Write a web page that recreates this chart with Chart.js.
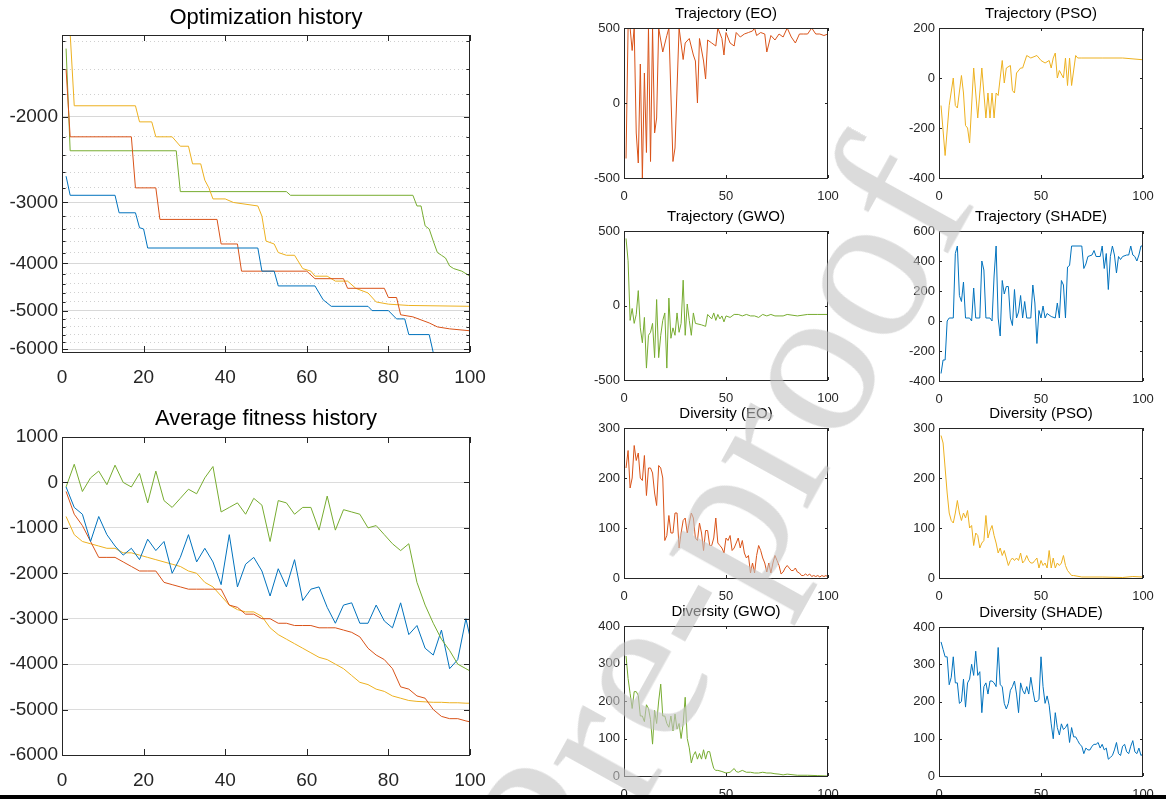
<!DOCTYPE html>
<html><head><meta charset="utf-8">
<script src="https://cdn.jsdelivr.net/npm/chart.js@4"></script>
<style>
body{margin:0;background:#fff;width:1166px;height:799px;position:relative;overflow:hidden;font-family:"Liberation Sans",Arial,sans-serif}
.box{position:absolute}
#wm{position:absolute;right:250px;top:40px;white-space:nowrap;font-family:"Liberation Serif","DejaVu Serif",serif;font-size:215px;color:rgba(195,195,195,0.6);transform-origin:right center;transform:rotate(-61deg);pointer-events:none}
#bar{position:absolute;left:0;top:795px;width:1166px;height:4px;background:#000}
</style></head><body>
<div id="wm">Journal Pre-proof</div>
<div id="bar"></div>
<script>
var BLUE="#0072BD",ORANGE="#D95319",YELLOW="#EDB120",GREEN="#77AC30";

// Optimization history (step breakpoints)
var optBlueX=[1,2,13,14,18,19,20,21,48,49,52,53,62,64,66,75,76,80,82,84,85,90,91,100];
var optBlueY=[-2650,-2900,-2900,-3150,-3150,-3380,-3400,-3720,-3720,-4150,-4150,-4450,-4450,-4750,-4900,-4900,-5000,-5000,-5200,-5200,-5600,-5600,-6100,-6100];
var optOrangeX=[1,2,17,18,23,24,38,39,43,44,60,62,69,70,79,80,82,83,86,90,92,95,100];
var optOrangeY=[-1600,-2200,-2200,-2800,-2800,-3250,-3250,-3650,-3650,-4150,-4150,-4300,-4300,-4500,-4500,-4700,-4700,-5100,-5150,-5300,-5400,-5450,-5500];
var optYellowX=[1,2,3,18,19,22,23,27,29,31,32,34,35,36,37,40,42,48,49,50,52,53,55,57,59,61,62,65,67,70,72,75,77,80,85,100];
var optYellowY=[-1300,-1350,-1900,-1900,-2050,-2050,-2200,-2200,-2300,-2300,-2500,-2500,-2700,-2800,-2950,-2950,-3000,-3050,-3200,-3600,-3650,-3800,-3850,-3850,-4100,-4150,-4250,-4250,-4350,-4350,-4500,-4600,-4800,-4850,-4880,-4900];
var optGreenX=[1,2,28,29,55,56,86,87,88,89,90,91,92,93,94,95,96,98,100];
var optGreenY=[-1450,-2350,-2350,-2850,-2850,-2900,-2900,-3050,-3050,-3350,-3400,-3600,-3800,-3850,-3900,-4050,-4100,-4150,-4250];

// Average fitness history
var avgX=[1,3,5,7,9,11,13,15,17,19,21,23,25,27,29,31,33,35,37,39,41,43,45,47,49,51,53,55,57,59,61,63,65,67,69,71,73,75,77,79,81,83,85,87,89,91,93,95,97,99,100];
var avgGreen=[-100,400,-200,100,250,-50,380,0,-100,200,-450,250,-400,-550,-350,-150,-250,100,350,-650,-550,-450,-700,-350,-500,-1300,-400,-450,-700,-550,-550,-1050,-300,-1050,-600,-650,-700,-1000,-950,-1150,-1350,-1500,-1350,-2200,-2700,-3100,-3450,-3700,-4000,-4100,-4150];
var avgBlue=[-100,-550,-700,-1300,-750,-1150,-1400,-1600,-1450,-1700,-1250,-1500,-1300,-2000,-1650,-1150,-1750,-1450,-1750,-2250,-1150,-2300,-1800,-1650,-1950,-2500,-1900,-2300,-1700,-2600,-2350,-2300,-2750,-3100,-2700,-2650,-3100,-3100,-2700,-3050,-3200,-2650,-3350,-3150,-3650,-3800,-3250,-4100,-3900,-3000,-3400];
var avgOrange=[-200,-700,-950,-1300,-1650,-1650,-1650,-1750,-1850,-1950,-1950,-1950,-2200,-2250,-2300,-2350,-2350,-2350,-2350,-2350,-2700,-2750,-2900,-2900,-3000,-3000,-3100,-3100,-3150,-3150,-3150,-3200,-3200,-3200,-3250,-3300,-3400,-3650,-3800,-3900,-4100,-4500,-4550,-4700,-4750,-5000,-5150,-5200,-5200,-5250,-5270];
var avgYellow=[-750,-1150,-1300,-1350,-1400,-1450,-1450,-1550,-1550,-1600,-1650,-1700,-1750,-1800,-1850,-1950,-2000,-2200,-2300,-2500,-2700,-2800,-2850,-2850,-2950,-3200,-3350,-3450,-3550,-3650,-3750,-3850,-3900,-4000,-4100,-4250,-4400,-4450,-4550,-4600,-4700,-4750,-4800,-4820,-4830,-4840,-4840,-4850,-4850,-4860,-4860];

// Trajectories
var trajEOX=[1,2,3,4,5,6,7,8,9,10,11,12,13,14,15,16,17,19,21,22,24,25,27,29,30,32,34,35,36,37,39,40,41,43,45,46,48,49,50,52,54,55,57,59,61,63,64,65,67,69,70,72,74,76,78,80,82,84,86,88,90,92,94,96,98,100];
var trajEOY=[-370,500,500,350,500,-200,-400,260,-500,200,-330,500,-390,500,-200,-100,500,340,450,500,-390,-300,500,290,400,430,320,280,0,430,280,160,420,400,380,500,430,320,470,400,380,470,440,460,470,480,500,450,470,460,340,450,420,460,440,500,440,400,460,460,460,500,460,460,450,460];
var trajPSOX=[1,3,5,7,8,9,11,12,13,14,15,17,19,21,23,24,25,26,27,28,29,31,32,33,35,36,37,38,40,41,43,45,48,50,52,54,55,56,57,58,59,61,62,63,64,65,67,68,70,75,80,90,100];
var trajPSOY=[-110,-310,-110,0,-110,-120,10,-60,-190,-200,-260,40,-160,40,-160,-60,-160,-60,-160,-60,-70,70,-20,40,50,-50,-60,20,40,40,90,80,90,70,60,70,40,80,100,0,30,0,80,-30,80,-30,90,80,80,80,80,80,73];
var trajGWOX=[1,2,3,4,5,6,7,8,9,10,11,12,13,14,15,16,17,18,19,20,21,22,23,24,25,26,27,28,29,30,31,32,33,34,35,38,40,41,43,44,45,46,47,48,49,50,52,54,56,58,60,62,64,66,68,70,72,74,76,78,80,85,90,95,100];
var trajGWOY=[450,300,-100,-20,-120,-60,100,-150,-250,-80,-420,-200,-180,-120,-350,40,-350,-200,-100,-50,-420,50,-220,-150,-200,-50,-180,-120,170,-200,10,-100,-200,-50,-120,-130,-140,-60,-90,-50,-100,-60,-90,-70,-110,-70,-80,-60,-60,-70,-60,-70,-70,-80,-60,-70,-60,-70,-70,-70,-60,-70,-60,-60,-60];
var trajSHX=[1,2,3,4,5,7,8,9,10,11,12,13,15,16,17,18,20,21,22,23,25,26,27,28,29,30,31,32,33,34,35,36,37,38,39,40,41,42,43,45,46,47,48,49,50,51,52,53,55,57,58,59,60,61,62,63,64,65,70,71,72,73,75,76,77,79,80,81,82,83,84,85,86,87,88,89,90,92,93,94,95,96,97,98,99,100];
var trajSHY=[-350,-260,-260,0,20,20,450,500,170,130,260,20,20,0,220,20,20,400,340,20,20,0,300,500,20,-100,270,180,230,230,20,-30,210,20,60,170,20,130,20,20,240,120,-150,70,20,100,20,50,30,20,120,20,270,240,20,360,370,500,500,350,380,430,440,470,430,430,500,350,450,210,430,500,440,320,430,410,430,440,440,500,440,430,400,440,500,500];

// Diversity (x = 1..100 unless given)
var divEO=[220,255,180,200,265,235,250,200,195,245,165,220,220,210,170,145,225,220,200,75,85,125,90,90,130,130,60,90,115,120,90,110,130,120,80,75,110,90,55,95,95,65,65,80,120,70,65,60,50,80,75,85,55,60,70,80,60,75,50,40,45,10,30,10,45,65,55,40,30,12,30,10,30,45,35,25,8,12,20,25,20,15,15,20,12,10,5,5,8,5,8,3,5,3,5,2,5,3,5,2];
var divPSOX=[1,2,3,4,5,6,7,8,9,10,11,12,13,14,15,16,17,18,19,20,21,22,23,24,25,26,27,28,29,30,31,32,33,34,35,36,37,38,39,40,41,42,43,44,45,46,47,48,49,50,51,52,53,54,55,56,57,58,59,60,61,62,63,64,65,66,70,80,90,95,100];
var divPSOY=[285,270,220,170,130,115,110,130,155,130,115,130,120,135,100,105,65,90,85,60,70,75,125,80,95,105,85,70,50,60,45,55,40,25,35,40,35,40,35,50,30,35,45,35,30,30,35,40,20,35,25,30,20,55,20,40,20,30,25,30,45,25,15,10,5,5,2,2,1,3,2];
var divGWOX=[1,2,3,4,5,6,7,8,9,10,11,12,13,14,15,16,17,18,19,20,21,22,23,24,25,26,27,28,29,30,31,32,33,34,35,36,37,38,39,40,41,42,43,44,45,46,48,50,52,54,55,56,58,60,62,64,66,68,70,72,74,76,78,80,85,90,95,100];
var divGWOY=[320,260,220,180,225,225,215,160,160,145,190,180,150,85,175,140,200,245,160,160,140,130,160,120,165,125,140,100,140,210,100,75,35,55,65,45,60,45,70,45,65,65,40,20,15,15,12,8,10,20,12,10,15,10,10,8,8,10,8,8,6,5,3,5,2,2,1,0];
var divSHADE=[360,340,320,320,245,265,320,250,250,195,200,260,185,250,260,300,270,335,270,280,170,240,250,220,255,255,250,240,345,245,240,195,180,195,230,240,255,220,170,250,230,220,240,220,265,230,200,200,205,320,240,195,215,190,140,100,170,130,110,140,125,130,140,90,130,105,105,95,85,80,60,75,70,70,80,85,85,90,75,85,70,75,45,50,55,70,90,60,55,80,85,65,60,80,95,65,60,75,55,60];

function pts(xs,ys){
  return ys.map(function(y,i){return {x:xs?xs[i]:i+1,y:y};});
}
function neg(arr){return arr.map(function(v){return -v;});}

// frame + inward ticks + title
var framePlugin={
  id:"frame",
  afterDraw:function(chart){
    var c=chart.ctx,a=chart.chartArea,o=chart.options.plugins.frame;
    c.save();
    c.strokeStyle="#262626";c.lineWidth=1;
    c.strokeRect(a.left+0.5,a.top+0.5,a.right-a.left-1,a.bottom-a.top);
    var tl=o.tick||4;
    chart.scales.x.ticks.forEach(function(t){
      var px=Math.round(chart.scales.x.getPixelForValue(t.value))+0.5;
      c.beginPath();c.moveTo(px,a.bottom);c.lineTo(px,a.bottom-tl);
      c.moveTo(px,a.top);c.lineTo(px,a.top+tl);c.stroke();
    });
    ["y","y2"].forEach(function(k){
      var s=chart.scales[k];if(!s)return;
      var len=k=="y2"?tl*0.6:tl;
      s.ticks.forEach(function(t){
        var py=Math.round(s.getPixelForValue(t.value))+0.5;
        if(py<a.top||py>a.bottom)return;
        c.beginPath();c.moveTo(a.left,py);c.lineTo(a.left+len,py);
        c.moveTo(a.right,py);c.lineTo(a.right-len,py);c.stroke();
      });
    });
    c.fillStyle="#000";c.font=o.titleSize+"px 'Liberation Sans', Arial";
    c.textAlign="center";c.textBaseline="middle";
    c.fillText(o.title,(a.left+a.right)/2,a.top-o.titleOff);
    c.restore();
  }
};

function makeChart(L,T,R,B,yW,xH,padTop,opt){
  var div=document.createElement("div");div.className="box";
  var left=L-yW,top=T-padTop,padR=22;
  div.style.left=left+"px";div.style.top=top+"px";
  div.style.width=(R-left+padR)+"px";div.style.height=(B-top+xH)+"px";
  var cv=document.createElement("canvas");div.appendChild(cv);
  document.body.insertBefore(div,document.getElementById("wm"));
  var fs=opt.fs;
  var scales={
    x:{type:"linear",min:0,max:100,
      afterFit:function(s){s.height=xH;},
      ticks:{stepSize:opt.xStep,color:"#262626",font:{size:fs,family:"Liberation Sans"},maxRotation:0,padding:opt.xPad},
      grid:{display:false},border:{display:false}},
    y:opt.y
  };
  scales.y.afterFit=function(s){s.width=yW;};
  if(opt.y2)scales.y2=opt.y2;
  new Chart(cv,{
    type:"line",
    data:{datasets:opt.sets.map(function(s){return {data:s[0],borderColor:s[1],borderWidth:opt.lw||1,pointRadius:0,fill:false,tension:0};})},
    options:{
      responsive:true,maintainAspectRatio:false,animation:false,
      layout:{padding:{top:padTop,right:padR,left:0,bottom:0}},
      scales:scales,
      plugins:{legend:{display:false},tooltip:{enabled:false},
        frame:{title:opt.title,titleSize:opt.titleSize,titleOff:opt.titleOff,tick:opt.tick}}
    },
    plugins:[framePlugin]
  });
}

function yLin(min,max,step,fs,grid){
  return {type:"linear",min:min,max:max,
    ticks:{stepSize:step,color:"#262626",font:{size:fs,family:"Liberation Sans"},padding:4,callback:function(v){return String(v);}},
    grid:{display:!!grid,color:"#dcdcdc",drawTicks:false},border:{display:false}};
}

// Optimization history (log scale of -fitness, reversed)
var optMajor=[2000,3000,4000,5000,6000];
var optMinor=[1400,1600,1800,2200,2400,2600,2800,3200,3400,3600,3800,4200,4400,4600,4800,5200,5400,5600,5800];
makeChart(62,35,470,352,62,38,35,{
  title:"Optimization history",titleSize:22,titleOff:17,fs:19,xStep:20,xPad:6,tick:6,lw:1,
  y:{type:"logarithmic",reverse:true,min:1360,max:6080,
    afterBuildTicks:function(s){s.ticks=optMajor.map(function(v){return {value:v};});},
    ticks:{color:"#262626",font:{size:19,family:"Liberation Sans"},padding:4,callback:function(v){return "-"+v;}},
    grid:{color:"#d8d8d8",drawTicks:false},border:{display:false}},
  y2:{type:"logarithmic",reverse:true,min:1360,max:6080,position:"left",display:true,
    afterFit:function(s){s.width=0;},
    afterBuildTicks:function(s){s.ticks=optMinor.map(function(v){return {value:v};});},
    ticks:{display:false},
    grid:{color:"#d0d0d0",drawTicks:false},border:{display:false,dash:[1,3]}},
  sets:[[pts(optBlueX,neg(optBlueY)),BLUE],[pts(optOrangeX,neg(optOrangeY)),ORANGE],[pts(optYellowX,neg(optYellowY)),YELLOW],[pts(optGreenX,neg(optGreenY)),GREEN]]
});

makeChart(62,437,470,755,62,38,35,{
  title:"Average fitness history",titleSize:22,titleOff:18,fs:19,xStep:20,xPad:6,tick:6,
  y:yLin(-6000,1000,1000,19,true),
  sets:[[pts(avgX,avgGreen),GREEN],[pts(avgX,avgBlue),BLUE],[pts(avgX,avgOrange),ORANGE],[pts(avgX,avgYellow),YELLOW]]
});

var small=[
  [624,28,828,178,"Trajectory (EO)",yLin(-500,500,500,13),[[pts(trajEOX,trajEOY),ORANGE]]],
  [939,28,1143,178,"Trajectory (PSO)",yLin(-400,200,200,13),[[pts(trajPSOX,trajPSOY),YELLOW]]],
  [624,231,828,380,"Trajectory (GWO)",yLin(-500,500,500,13),[[pts(trajGWOX,trajGWOY),GREEN]]],
  [939,231,1143,381,"Trajectory (SHADE)",yLin(-400,600,200,13),[[pts(trajSHX,trajSHY),BLUE]]],
  [624,428,828,578,"Diversity (EO)",yLin(0,300,100,13),[[pts(null,divEO),ORANGE]]],
  [939,428,1143,578,"Diversity (PSO)",yLin(0,300,100,13),[[pts(divPSOX,divPSOY),YELLOW]]],
  [624,626,828,776,"Diversity (GWO)",yLin(0,400,100,13),[[pts(divGWOX,divGWOY),GREEN]]],
  [939,627,1143,776,"Diversity (SHADE)",yLin(0,400,100,13),[[pts(null,divSHADE),BLUE]]]
];
small.forEach(function(s){
  makeChart(s[0],s[1],s[2],s[3],46,24,26,{
    title:s[4],titleSize:15,titleOff:14,fs:13,xStep:50,xPad:3,tick:3,y:s[5],sets:s[6]
  });
});
</script>
</body></html>
